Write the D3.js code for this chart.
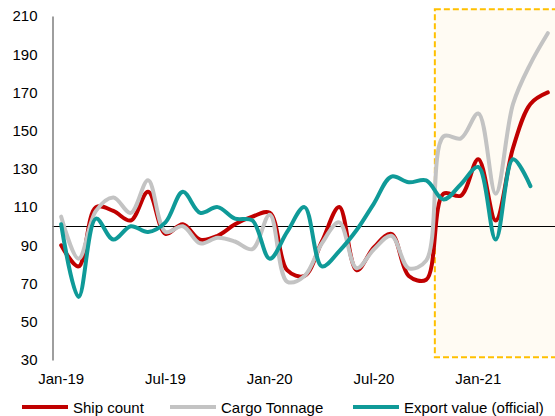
<!DOCTYPE html>
<html>
<head>
<meta charset="utf-8">
<script src="https://cdn.jsdelivr.net/npm/d3@7"></script>
<style>
  html, body { margin: 0; padding: 0; background: #fff; }
  svg { display: block; font-family: "Liberation Sans", Arial, sans-serif; }
</style>
</head>
<body>
<svg id="chart" width="555" height="416"></svg>
<script>
// Monthly index series, Jan-19 to May-21
const months = [
  "Jan-19","Feb-19","Mar-19","Apr-19","May-19","Jun-19","Jul-19","Aug-19","Sep-19","Oct-19","Nov-19","Dec-19",
  "Jan-20","Feb-20","Mar-20","Apr-20","May-20","Jun-20","Jul-20","Aug-20","Sep-20","Oct-20","Nov-20","Dec-20",
  "Jan-21","Feb-21","Mar-21","Apr-21","May-21"
];
const shipCount = [90, 79, 110, 108, 103, 118, 96, 101, 93, 95, 101, 105,
                   107, 77, 74, 92, 110, 77, 89, 96, 74, 72, 117, 116,
                   135, 103, 141, 164, 170];
const cargoTonnage = [105, 83, 108, 115, 107, 124, 97, 100, 91, 94, 92, 88,
                      106, 71, 74, 91, 102, 78, 88, 95, 78, 82, 147, 146,
                      159, 117, 164, 185, 201];
const exportValue = [101, 63, 104, 93, 100, 97, 102, 118, 107, 110, 104, 103,
                     83, 97, 110, 79, 87, 98, 112, 126, 123, 124, 114, 122,
                     131, 93, 135, 121];
const yTicks = [30, 50, 70, 90, 110, 130, 150, 170, 190, 210];
const xTickLabels = ["Jan-19", "Jul-19", "Jan-20", "Jul-20", "Jan-21"];
const baseline = 100;
const highlightStart = "Nov-20";

const series = [
  { name: "Ship count", values: shipCount, color: "#C00000" },
  { name: "Cargo Tonnage", values: cargoTonnage, color: "#C3C3C3" },
  { name: "Export value (official)", values: exportValue, color: "#0F9A98" }
];

const svg = d3.select("#chart");
const W = 555;

const x = d3.scaleBand().domain(months).range([52.5, 556.5]).paddingInner(0).paddingOuter(0);
const cx = m => x(m) + x.bandwidth() / 2;
const y = d3.scaleLinear().domain([30, 210]).range([360, 16]);

// Highlighted recent period
const hx = x(highlightStart);
svg.append("rect")
  .attr("x", hx)
  .attr("y", y(213.5))
  .attr("width", W - hx + 10)
  .attr("height", y(31.5) - y(213.5))
  .attr("fill", "#FFFBF3")
  .attr("stroke", "#FFC000")
  .attr("stroke-width", 2)
  .attr("stroke-dasharray", "6,3");

// Reference line at 100
const yBase = Math.round(y(baseline)) + 0.5;
svg.append("line")
  .attr("x1", x.range()[0]).attr("x2", W)
  .attr("y1", yBase).attr("y2", yBase)
  .attr("stroke", "#000").attr("stroke-width", 1);

// Y axis
const yAxis = svg.append("g")
  .attr("transform", "translate(" + x.range()[0] + ",0)")
  .call(d3.axisLeft(y).tickValues(yTicks).tickSize(0).tickPadding(15).tickFormat(d3.format("d")));
yAxis.select(".domain").attr("stroke", "#868686").attr("stroke-width", 1.6);
yAxis.selectAll("text").attr("font-size", 15).attr("fill", "#000")
  .attr("font-family", "'Liberation Sans', Arial, sans-serif");

// X axis labels
const xAxis = svg.append("g")
  .attr("transform", "translate(0,360)")
  .call(d3.axisBottom(x).tickValues(xTickLabels).tickSize(0).tickPadding(13));
xAxis.select(".domain").remove();
xAxis.selectAll("text").attr("font-size", 15).attr("fill", "#000")
  .attr("font-family", "'Liberation Sans', Arial, sans-serif");

// Smoothed series lines
const line = d3.line()
  .x((d, i) => cx(months[i]))
  .y(d => y(d))
  .curve(d3.curveCatmullRom.alpha(0.5));

series.forEach(s => {
  svg.append("path")
    .datum(s.values)
    .attr("d", line)
    .attr("fill", "none")
    .attr("stroke", s.color)
    .attr("stroke-width", 4)
    .attr("stroke-linejoin", "round")
    .attr("stroke-linecap", "round");
});

// Legend
const legendPos = [
  { x1: 22, x2: 68, tx: 73 },
  { x1: 170, x2: 216, tx: 221 },
  { x1: 353, x2: 399, tx: 404 }
];
const legend = svg.append("g");
series.forEach((s, i) => {
  const p = legendPos[i];
  legend.append("line")
    .attr("x1", p.x1).attr("x2", p.x2)
    .attr("y1", 407).attr("y2", 407)
    .attr("stroke", s.color).attr("stroke-width", 4);
  legend.append("text")
    .attr("x", p.tx).attr("y", 412.5)
    .attr("font-size", 15)
    .attr("fill", "#000")
    .text(s.name);
});
</script>
</body>
</html>
